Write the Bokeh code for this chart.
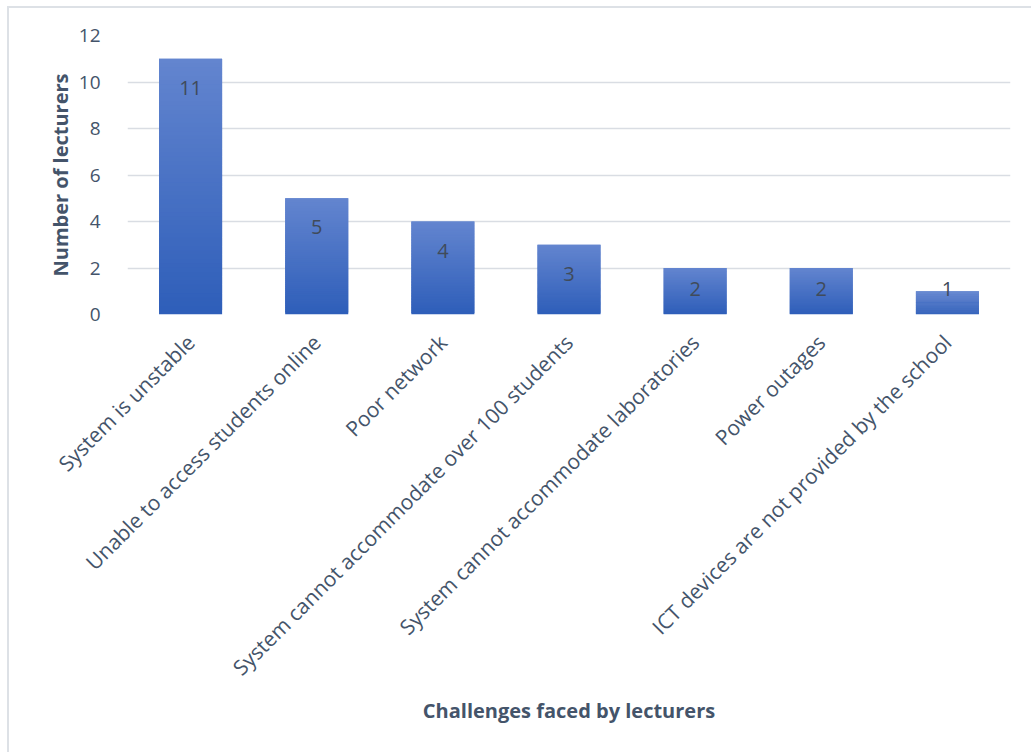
import numpy as np
from bokeh.plotting import figure
from bokeh.models import ColumnDataSource, FixedTicker
from bokeh.core.properties import value
from bokeh.embed import file_html
from bokeh.resources import INLINE

categories = [
    "System is unstable",
    "Unable to access students online",
    "Poor network",
    "System cannot accommodate over 100 students",
    "System cannot accommodate laboratories",
    "Power outages",
    "ICT devices are not provided by the school",
]
lecturers = [11, 5, 4, 3, 2, 2, 1]
y_ticks = [0, 2, 4, 6, 8, 10, 12]

FONT = "Open Sans"
TXT = "#44546a"
top_rgb = np.array([99, 133, 207])
bot_rgb = np.array([46, 94, 185])

p = figure(
    x_range=categories, y_range=(0, 12),
    width=1022, height=744,
    frame_width=883, frame_height=279,
    min_border_left=118, min_border_top=27, min_border_right=21, min_border_bottom=438,
    output_backend="svg", toolbar_location=None,
    styles={"margin-left": "7px", "margin-top": "6px",
            "border-left": "2px solid #dde1e6", "border-top": "2px solid #dde1e6"},
)
p.outline_line_color = None
p.background_fill_color = "white"
p.border_fill_color = "white"

# gradient bars built from stacked slices (each bar: light at top, dark at bottom)
N = 60
xs, bots, tops, cols = [], [], [], []
for c, v in zip(categories, lecturers):
    for i in range(N):
        f = (i + 0.5) / N
        rgb = bot_rgb + (top_rgb - bot_rgb) * f
        xs.append(c)
        bots.append(v * i / N)
        tops.append(v * min(i + 2, N) / N)
        cols.append("#%02x%02x%02x" % tuple(int(round(t)) for t in rgb))
src = ColumnDataSource(dict(x=xs, bottom=bots, top=tops, color=cols))
p.vbar(x="x", bottom="bottom", top="top", width=0.5, source=src,
       fill_color="color", line_color=None)

# data labels: inside end, kept above the bar base for short bars
label_y = [max(v - 1.25, 1.1) for v in lecturers]
lab = ColumnDataSource(dict(x=categories, y=label_y, t=[str(v) for v in lecturers]))
p.text(x="x", y="y", text="t", source=lab, text_align="center", text_baseline="middle",
       text_font=value(FONT), text_font_size="20px", text_color="#404b5a")

p.ygrid.grid_line_color = "#d9dde3"
p.ygrid.grid_line_width = 1.5
p.xgrid.grid_line_color = None

p.yaxis.ticker = FixedTicker(ticks=y_ticks)
p.yaxis.axis_line_color = None
p.yaxis.major_tick_line_color = None
p.yaxis.minor_tick_line_color = None
p.yaxis.major_label_text_font = FONT
p.yaxis.major_label_text_font_size = "19px"
p.yaxis.major_label_text_color = TXT
p.yaxis.major_label_standoff = 21
p.yaxis.axis_label = "Number of lecturers"
p.yaxis.axis_label_text_font = FONT
p.yaxis.axis_label_text_font_style = "bold"
p.yaxis.axis_label_text_font_size = "20px"
p.yaxis.axis_label_text_color = TXT
p.yaxis.axis_label_standoff = 2

p.xaxis.axis_line_color = None
p.xaxis.major_tick_line_color = None
p.xaxis.minor_tick_line_color = None
p.xaxis.major_label_orientation = np.pi / 4
p.xaxis.major_label_text_font = FONT
p.xaxis.major_label_text_font_size = "21px"
p.xaxis.major_label_text_color = TXT
p.xaxis.major_label_standoff = 18
p.xaxis.axis_label = "Challenges faced by lecturers"
p.xaxis.axis_label_text_font = FONT
p.xaxis.axis_label_text_font_style = "bold"
p.xaxis.axis_label_text_font_size = "20px"
p.xaxis.axis_label_text_color = TXT
p.xaxis.axis_label_standoff = 3

open("out.html", "w").write(file_html(p, INLINE))
